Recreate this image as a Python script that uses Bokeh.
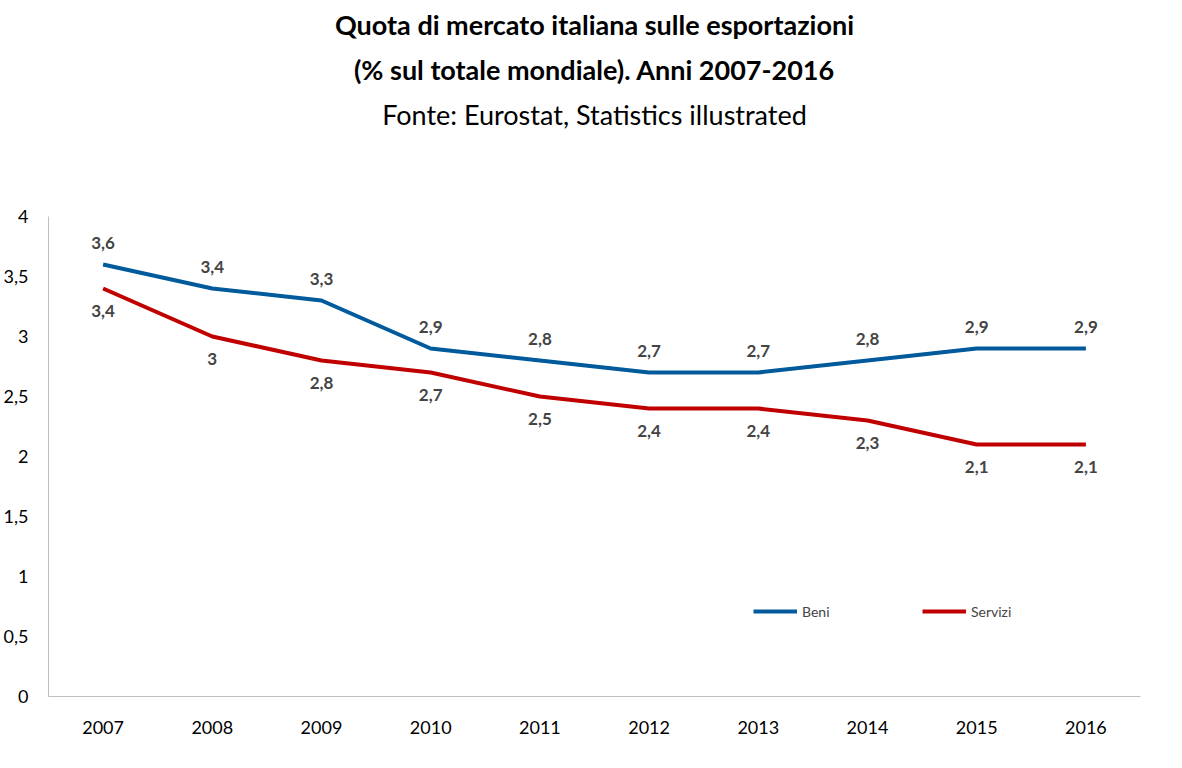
from bokeh.plotting import figure
from bokeh.models import Title, Legend, LegendItem, ColumnDataSource, LabelSet, FixedTicker, CustomJSTickFormatter
from bokeh.core.properties import value
from bokeh.embed import file_html
from bokeh.resources import INLINE

anni = [2007, 2008, 2009, 2010, 2011, 2012, 2013, 2014, 2015, 2016]
beni = [3.6, 3.4, 3.3, 2.9, 2.8, 2.7, 2.7, 2.8, 2.9, 2.9]
servizi = [3.4, 3.0, 2.8, 2.7, 2.5, 2.4, 2.4, 2.3, 2.1, 2.1]
yticks = [0, 0.5, 1, 1.5, 2, 2.5, 3, 3.5, 4]

def fmt(v):
    return ("%g" % v).replace(".", ",")

F = "Lato"
p = figure(width=1166, height=760, x_range=(2006.5, 2016.5), y_range=(0, 4),
           output_backend="svg", toolbar_location=None,
           min_border_left=40, min_border_right=26, min_border_bottom=64, min_border_top=14)
p.add_layout(Title(text=" ", align="center", text_font=F, text_font_size="58px"), "above")
p.add_layout(Title(text="Fonte: Eurostat, Statistics illustrated", align="center",
                   text_font=F, text_font_size="27px", text_font_style="normal",
                   text_color="black"), "above")
p.add_layout(Title(text="(% sul totale mondiale). Anni 2007-2016", align="center",
                   text_font=F, text_font_size="27px", text_font_style="bold", text_color="black"), "above")
p.add_layout(Title(text="Quota di mercato italiana sulle esportazioni", align="center",
                   text_font=F, text_font_size="27px", text_font_style="bold", text_color="black"), "above")

p.outline_line_color = None
p.grid.grid_line_color = None
for ax in (p.xaxis, p.yaxis):
    ax.axis_line_color = "#bfbfbf"
    ax.major_tick_line_color = None
    ax.minor_tick_line_color = None
    ax.major_label_text_font = F
    ax.major_label_text_font_size = "18px"
    ax.major_label_text_color = "black"
p.xaxis.ticker = FixedTicker(ticks=anni)
p.xaxis.major_label_standoff = 18
p.yaxis.major_label_standoff = 14
p.yaxis.ticker = FixedTicker(ticks=yticks)
p.yaxis.formatter = CustomJSTickFormatter(code="return String(tick).replace('.', ',');")

src = ColumnDataSource(dict(x=anni, b=beni, s=servizi,
                            bl=[fmt(v) for v in beni], sl=[fmt(v) for v in servizi]))
rb = p.line("x", "b", source=src, line_color="#005a9c", line_width=4)
rs = p.line("x", "s", source=src, line_color="#c00000", line_width=4)
p.add_layout(LabelSet(x="x", y="b", text="bl", source=src, text_align="center",
                      y_offset=16, text_font=value(F), text_font_size=value("17px"),
                      text_font_style=value("bold")))
p.add_layout(LabelSet(x="x", y="s", text="sl", source=src, text_align="center",
                      text_baseline="top", y_offset=-16, text_font=value(F),
                      text_font_size=value("17px"), text_font_style=value("bold")))

leg = Legend(items=[LegendItem(label="Beni", renderers=[rb]), LegendItem(label="Servizi", renderers=[rs])],
             orientation="horizontal", location=(705, 75), glyph_width=44, label_standoff=5,
             label_width=40, spacing=80, label_text_font=F, label_text_font_size="14px",
             border_line_color=None, background_fill_alpha=0)
p.add_layout(leg, "center")

open("out.html", "w").write(file_html(p, INLINE))
